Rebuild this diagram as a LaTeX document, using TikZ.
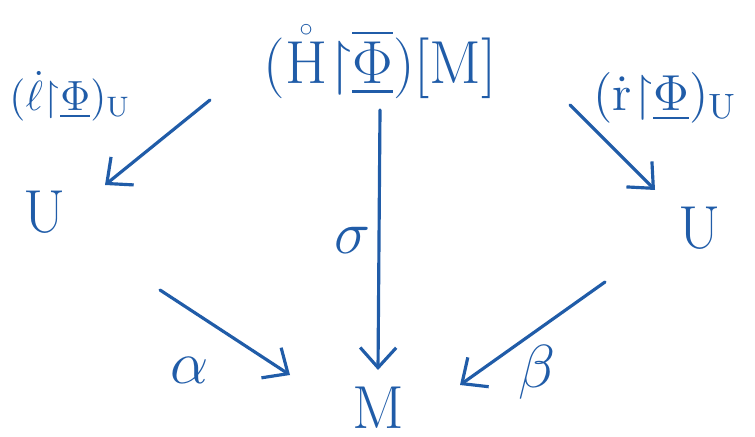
\documentclass[tikz,border=0pt]{standalone}
\usepackage{amsmath}
\usepackage{amssymb}
\usetikzlibrary{arrows.meta, calc}
\definecolor{ink}{RGB}{32,92,168}
\tikzstyle{arrow}  = [ink, line width=0.9pt, line cap=round, -{Straight Barb[length=2mm,width=3.6mm]}]
\tikzstyle{object} = [ink, inner sep=1pt, font=\LARGE]
\tikzstyle{label}  = [ink, inner sep=1pt]
\newcommand{\rst}{{\upharpoonright}}

\begin{document}
\begin{tikzpicture}[x=0.01cm, y=-0.01cm]
    \useasboundingbox (0,0) rectangle (755,437);

    \node[object] (HM) at (380,62)  {$(\mathring{\mathrm{H}}\rst\overline{\underline{\Phi}})[\mathrm{M}]$};
    \node[object] (UL) at (45,212)  {$\mathrm{U}$};
    \node[object] (UR) at (700,228) {$\mathrm{U}$};
    \node[object] (M)  at (378,408) {$\mathrm{M}$};

    \node[label, font=\large] (Lleft)  at (70,96)   {$(\dot{\ell}\rst\underline{\Phi})_{\mathrm{U}}$};
    \node[label, font=\Large] (Lright) at (665,98)  {$(\dot{\mathrm{r}}\rst\underline{\Phi})_{\mathrm{U}}$};
    \node[label, font=\LARGE] (Lsigma) at (352,240) {$\sigma$};
    \node[label, font=\LARGE] (Lalpha) at (190,370) {$\alpha$};
    \node[label, font=\LARGE] (Lbeta)  at (537,372) {$\beta$};

    \draw[arrow] ($(HM)+(-170,38)$) -- ($(UL)+(60,-27)$);
    \draw[arrow] ($(HM)+(0,48)$)    -- ($(M)+(0,-38)$);
    \draw[arrow] ($(HM)+(190,43)$)  -- ($(UR)+(-45,-38)$);
    \draw[arrow] ($(UL)+(115,78)$)  -- ($(M)+(-88,-33)$);
    \draw[arrow] ($(UR)+(-95,54)$)  -- ($(M)+(82,-23)$);

\end{tikzpicture}
\end{document}
